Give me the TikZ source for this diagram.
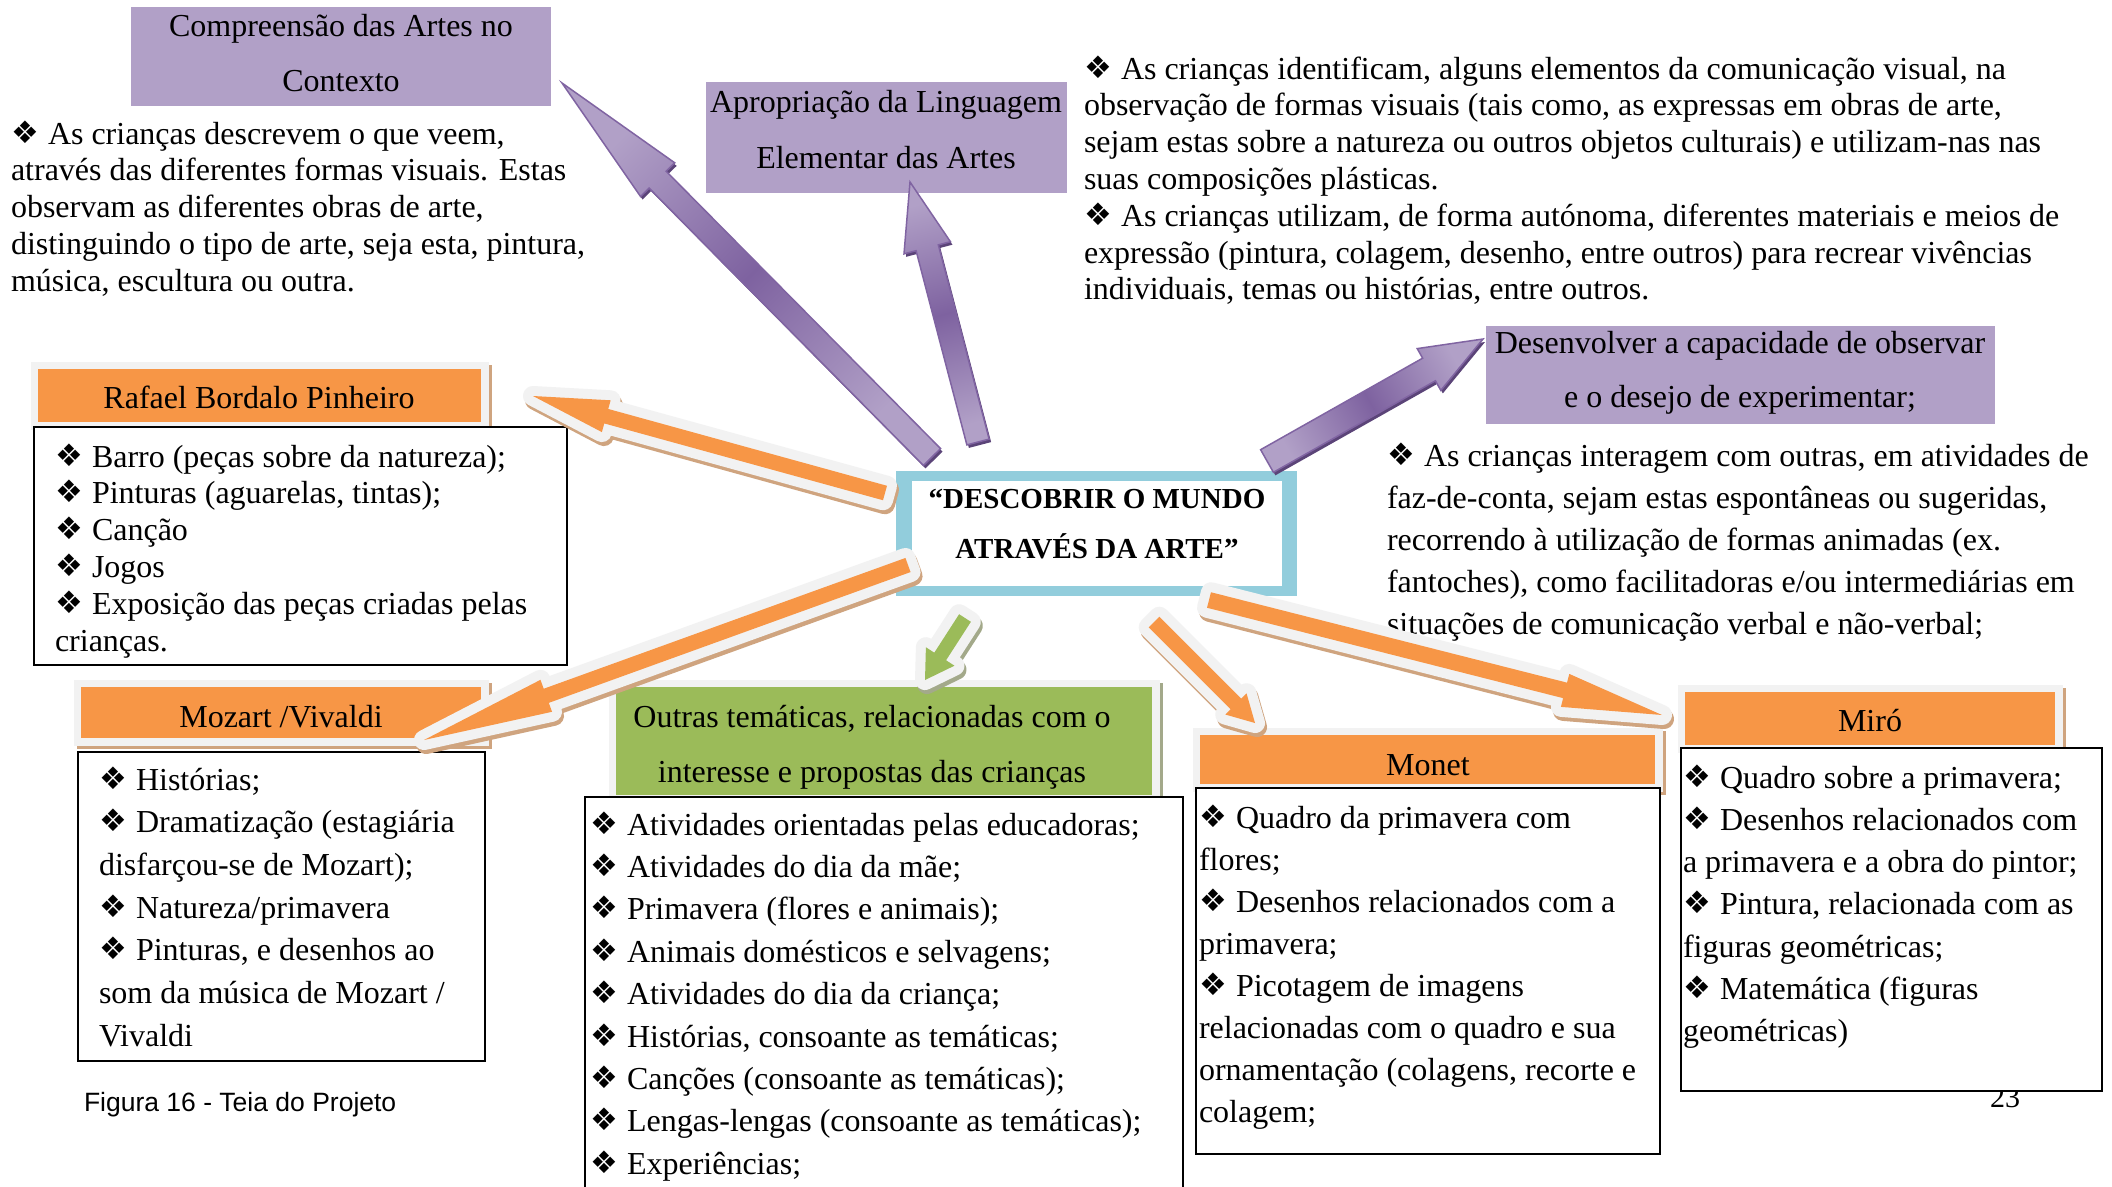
\documentclass[tikz,border=0pt]{standalone}
\usepackage{fontspec}
\setmainfont{Liberation Serif}
\setsansfont{Liberation Sans}
\newfontfamily\dejavu{DejaVu Sans}
\usetikzlibrary{calc}
\definecolor{purpbox}{HTML}{B1A0C7}
\definecolor{purpdark}{HTML}{8064A2}
\definecolor{purpmid}{HTML}{7E62A0}
\definecolor{purpshadow}{HTML}{5B4478}
\definecolor{orangeA}{HTML}{F79646}
\definecolor{greenA}{HTML}{9BBB59}
\definecolor{cyanA}{HTML}{92CDDC}
\definecolor{frameA}{HTML}{F2F2F2}
\definecolor{tanA}{HTML}{CFA47F}
\definecolor{oliveA}{HTML}{A3A98A}
\newcommand\bul{\makebox[37pt][l]{\raisebox{1pt}{\dejavu\fontsize{31}{31}\selectfont ❖}}}
\newcommand\llines[1]{\parbox[t]{1200pt}{\raggedright #1}}
\newcommand\clines[1]{\parbox[t]{700pt}{\centering #1}}
\newcommand\mkarrow[6]{%
  \coordinate (#1h) at ($(#3)!#6!(#2)$);
  \coordinate (#1a) at ($(#2)!#4!90:(#3)$);
  \coordinate (#1b) at ($(#1h)!#4!90:(#3)$);
  \coordinate (#1c) at ($(#1h)!#5!90:(#3)$);
  \coordinate (#1d) at ($(#1h)!#5!-90:(#3)$);
  \coordinate (#1e) at ($(#1h)!#4!-90:(#3)$);
  \coordinate (#1f) at ($(#2)!#4!-90:(#3)$);
}
\newcommand\orgarrow[4]{%
  \path[draw=#4, fill=#4, line width=20pt, line join=round, transform canvas={xshift=2pt,yshift=-4pt}] (#1a) -- (#1b) -- (#1c) -- (#2) -- (#1d) -- (#1e) -- (#1f) -- cycle;
  \path[draw=frameA, fill=frameA, line width=20pt, line join=round] (#1a) -- (#1b) -- (#1c) -- (#2) -- (#1d) -- (#1e) -- (#1f) -- cycle;
  \fill[#3] (#1a) -- (#1b) -- (#1c) -- (#2) -- (#1d) -- (#1e) -- (#1f) -- cycle;
}
\newcommand\purparrow[3]{%
  \fill[purpshadow, transform canvas={xshift=2pt,yshift=-3pt}] (#1a) -- (#1b) -- (#1c) -- (#2) -- (#1d) -- (#1e) -- (#1f) -- cycle;
  \path[draw=purpdark, line width=1.5pt, line join=miter, top color=purpbox, bottom color=purpbox, middle color=purpmid, shading angle=#3] (#1a) -- (#1b) -- (#1c) -- (#2) -- (#1d) -- (#1e) -- (#1f) -- cycle;
}
\newcommand\header[7]{%
  \fill[#7] ({#2-7+3},{#3-7+3}) rectangle ({#2+#4+8+3},{#3+#5+8+3});
  \fill[frameA] ({#2-7},{#3-7}) rectangle ({#2+#4+8},{#3+#5+8});
  \node[bx, fill=#6, anchor=north west, minimum width=#4pt, minimum height=#5pt] (#1) at (#2,#3) {};
}
\tikzset{
  bx/.style={inner sep=0pt, outer sep=0pt},
  txt/.style={bx, font=\fontsize{32}{#1}\selectfont},
  purp/.style={bx, fill=purpbox, anchor=north west},
  listbox/.style={bx, draw=black, line width=1.6pt, fill=white, anchor=north west},
}
\begin{document}
\begin{tikzpicture}[x=1pt,y=-1pt]
\useasboundingbox (0,0) rectangle (2112,1186);
\fill[white] (0,0) rectangle (2112,1186);

% purple headings
\node[purp, minimum width=420pt, minimum height=99pt] (compbox) at (131,7) {};
\node[txt=55, anchor=base] (complbl) at (341,36) {\clines{Compreensão das Artes no\\ Contexto}};
\node[purp, minimum width=361pt, minimum height=111pt] (apropbox) at (706,82) {};
\node[txt=56, anchor=base] (aproplbl) at (886,112) {\clines{Apropriação da Linguagem\\ Elementar das Artes}};
\node[purp, minimum width=509pt, minimum height=98pt] (desenvbox) at (1486,326) {};
\node[txt=54, anchor=base] (desenvlbl) at (1740,353) {\clines{Desenvolver a capacidade de observar\\ e o desejo de experimentar;}};

% free paragraphs
\node[txt=36.8, anchor=base west] (paraTL) at (11,144) {\llines{\bul As crianças descrevem o que veem,\\
através das diferentes formas visuais. Estas\\
observam as diferentes obras de arte,\\
distinguindo o tipo de arte, seja esta, pintura,\\
música, escultura ou outra.}};
\node[txt=36.8, anchor=base west] (paraTR) at (1084,79) {\llines{\bul As crianças identificam, alguns elementos da comunicação visual, na\\
observação de formas visuais (tais como, as expressas em obras de arte,\\
sejam estas sobre a natureza ou outros objetos culturais) e utilizam-nas nas\\
suas composições plásticas.\\
\bul As crianças utilizam, de forma autónoma, diferentes materiais e meios de\\
expressão (pintura, colagem, desenho, entre outros) para recrear vivências\\
individuais, temas ou histórias, entre outros.}};
\node[txt=42, anchor=base west] (paraR) at (1387,466) {\llines{\bul As crianças interagem com outras, em atividades de\\
faz-de-conta, sejam estas espontâneas ou sugeridas,\\
recorrendo à utilização de formas animadas (ex.\\
fantoches), como facilitadoras e/ou intermediárias em\\
situações de comunicação verbal e não-verbal;}};

% headers
\header{rafaelhdr}{38}{369}{443}{53}{orangeA}{tanA}
\header{mozarthdr}{81}{687}{400}{51}{orangeA}{tanA}
\header{greenhdr}{616}{687}{536}{108}{greenA}{oliveA}
\header{monethdr}{1200}{735}{455}{49}{orangeA}{tanA}
\header{mirohdr}{1685}{692}{370}{53}{orangeA}{tanA}
\node[txt=40, anchor=base] (rafaellbl) at (259,408) {Rafael Bordalo Pinheiro};
\node[txt=40, anchor=base] (mozartlbl) at (281,727) {Mozart /Vivaldi};
\node[txt=55, anchor=base] (greenlbl) at (872,727) {\clines{Outras temáticas, relacionadas com o\\ interesse e propostas das crianças}};
\node[txt=40, anchor=base] (monetlbl) at (1428,775) {Monet};
\node[txt=40, anchor=base] (mirolbl) at (1870,731) {Miró};

% page number (mostly hidden)
\node[bx, font=\fontsize{30}{30}\selectfont, anchor=base west] (pagenum) at (1990,1107) {23};

% list boxes
\node[listbox, minimum width=533pt, minimum height=238pt] (rafaellist) at (34,427) {};
\node[listbox, minimum width=407pt, minimum height=309pt] (mozartlist) at (78,752) {};
\node[listbox, minimum width=598pt, minimum height=420pt] (greenlist) at (585,797) {};
\node[listbox, minimum width=464pt, minimum height=366pt] (monetlist) at (1196,788) {};
\node[listbox, minimum width=421pt, minimum height=343pt] (mirolist) at (1681,748) {};

\node[txt=36.8, anchor=base west] (rafaeltxt) at (55,467) {\llines{\bul Barro (peças sobre da natureza);\\
\bul Pinturas (aguarelas, tintas);\\
\bul Canção\\
\bul Jogos\\
\bul Exposição das peças criadas pelas\\
crianças.}};
\node[txt=42.7, anchor=base west] (mozarttxt) at (99,790) {\llines{\bul Histórias;\\
\bul Dramatização (estagiária\\
disfarçou-se de Mozart);\\
\bul Natureza/primavera\\
\bul Pinturas, e desenhos ao\\
som da música de Mozart /\\
Vivaldi}};
\node[txt=42.4, anchor=base west] (greentxt) at (590,835) {\llines{\bul Atividades orientadas pelas educadoras;\\
\bul Atividades do dia da mãe;\\
\bul Primavera (flores e animais);\\
\bul Animais domésticos e selvagens;\\
\bul Atividades do dia da criança;\\
\bul Histórias, consoante as temáticas;\\
\bul Canções (consoante as temáticas);\\
\bul Lengas-lengas (consoante as temáticas);\\
\bul Experiências;}};
\node[txt=42, anchor=base west] (monettxt) at (1199,828) {\llines{\bul Quadro da primavera com\\
flores;\\
\bul Desenhos relacionados com a\\
primavera;\\
\bul Picotagem de imagens\\
relacionadas com o quadro e sua\\
ornamentação (colagens, recorte e\\
colagem;}};
\node[txt=42.3, anchor=base west] (mirotxt) at (1683,788) {\llines{\bul Quadro sobre a primavera;\\
\bul Desenhos relacionados com\\
a primavera e a obra do pintor;\\
\bul Pintura, relacionada com as\\
figuras geométricas;\\
\bul Matemática (figuras\\
geométricas)}};

% centre
\node[bx, fill=cyanA, anchor=north west, minimum width=401pt, minimum height=125pt] (centerframe) at (896,471) {};
\node[bx, fill=white, anchor=north west, minimum width=370pt, minimum height=105pt] (center) at (912,481) {};
\node[bx, font=\bfseries\fontsize{29}{50}\selectfont, anchor=base] (centerlbl) at (1097,508) {\clines{“DESCOBRIR O MUNDO\\ ATRAVÉS DA ARTE”}};

% caption
\node[bx, font=\sffamily\fontsize{26.5}{30}\selectfont, anchor=base west] (caption) at (84,1111) {Figura 16 - Teia do Projeto};

% arrow end points
\coordinate (aT) at (932,457);  \coordinate (aP) at (562,83);
\coordinate (bT) at (978,442);  \coordinate (bP) at (910,182);
\coordinate (cT) at (1267,461); \coordinate (cP) at (1483,339);
\coordinate (dT) at (885,493);  \coordinate (dP) at (533,396);
\coordinate (eT) at (908,565);  \coordinate (eP) at (424,740);
\coordinate (fT) at (965,618);  \coordinate (fP) at (925,680);
\coordinate (gT) at (1154,622); \coordinate (gP) at (1255,723);
\coordinate (hT) at (1209,600); \coordinate (hP) at (1662,715);

\mkarrow{arA-}{aT}{aP}{12pt}{24pt}{136pt}
\mkarrow{arB-}{bT}{bP}{11.5pt}{24pt}{68pt}
\mkarrow{arC-}{cT}{cP}{13pt}{24pt}{62pt}
\mkarrow{arD-}{dT}{dP}{7.5pt}{16.5pt}{76pt}
\mkarrow{arE-}{eT}{eP}{7.5pt}{17pt}{130pt}
\mkarrow{arF-}{fT}{fP}{7pt}{17pt}{28pt}
\mkarrow{arG-}{gT}{gP}{7.5pt}{15pt}{27pt}
\mkarrow{arH-}{hT}{hP}{8pt}{17pt}{100pt}

\orgarrow{arD-}{dP}{orangeA}{tanA}
\orgarrow{arE-}{eP}{orangeA}{tanA}
\orgarrow{arG-}{gP}{orangeA}{tanA}
\orgarrow{arH-}{hP}{orangeA}{tanA}
\orgarrow{arF-}{fP}{greenA}{oliveA}
\purparrow{arA-}{aP}{44.7}
\purparrow{arB-}{bP}{14.7}
\purparrow{arC-}{cP}{-60.5}
\end{tikzpicture}
\end{document}
